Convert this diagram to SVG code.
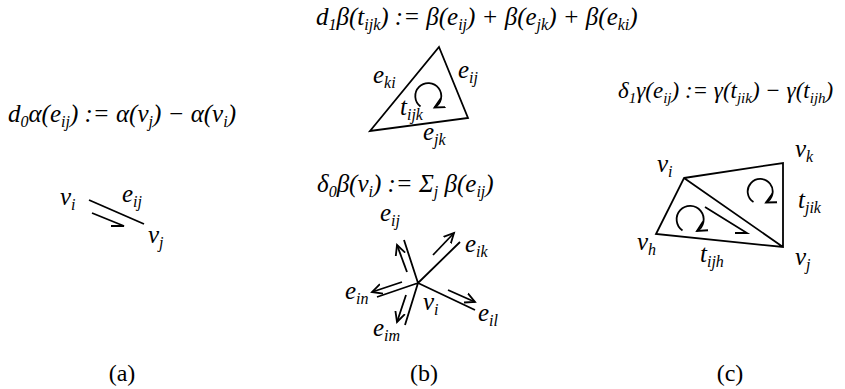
<svg xmlns="http://www.w3.org/2000/svg" width="845" height="389" viewBox="0 0 845 389">
<style>
text{font-family:"Liberation Serif","Times New Roman",serif;fill:#000}
.m{font-style:italic;font-size:25px}
.mc{font-style:italic;font-size:23px}
.l{font-style:italic;font-size:25px}
.s{font-size:16px}
.sc{font-size:15px}
.cap{font-size:24px}
.ln{stroke:#000;stroke-width:1.8;fill:none;stroke-linejoin:miter}
.ar{stroke:#000;stroke-width:1.8;fill:none;marker-end:url(#ah)}
</style>
<defs>
<marker id="ah" markerUnits="userSpaceOnUse" markerWidth="14" markerHeight="14" refX="10" refY="5" orient="auto" viewBox="0 0 14 10">
<path d="M0,0 L10,5 L0,10" fill="none" stroke="#000" stroke-width="1.8"/>
</marker>
</defs>
<g id="formulas">
<text class="m" x="8" y="122">d<tspan class="s" dy="5">0</tspan><tspan dy="-5">α(e</tspan><tspan class="s" dy="5">ij</tspan><tspan dy="-5">) := α(v</tspan><tspan class="s" dy="5">j</tspan><tspan dy="-5">) − α(v</tspan><tspan class="s" dy="5">i</tspan><tspan dy="-5">)</tspan></text>
<text class="m" x="316" y="25">d<tspan class="s" dy="5">1</tspan><tspan dy="-5">β(t</tspan><tspan class="s" dy="5">ijk</tspan><tspan dy="-5">) := β(e</tspan><tspan class="s" dy="5">ij</tspan><tspan dy="-5">) + β(e</tspan><tspan class="s" dy="5">jk</tspan><tspan dy="-5">) + β(e</tspan><tspan class="s" dy="5">ki</tspan><tspan dy="-5">)</tspan></text>
<text class="m" x="317" y="192">δ<tspan class="s" dy="5">0</tspan><tspan dy="-5">β(v</tspan><tspan class="s" dy="5">i</tspan><tspan dy="-5">) := Σ</tspan><tspan class="s" dy="5">j</tspan><tspan dy="-5"> β(e</tspan><tspan class="s" dy="5">ij</tspan><tspan dy="-5">)</tspan></text>
<text class="mc" x="618" y="98">δ<tspan class="sc" dy="5">1</tspan><tspan dy="-5">γ(e</tspan><tspan class="sc" dy="5">ij</tspan><tspan dy="-5">) := γ(t</tspan><tspan class="sc" dy="5">jik</tspan><tspan dy="-5">) − γ(t</tspan><tspan class="sc" dy="5">ijh</tspan><tspan dy="-5">)</tspan></text>
</g>
<g id="panel-a">
<text class="l" x="60" y="205">v<tspan class="s" dy="5">i</tspan></text>
<text class="l" x="122" y="202">e<tspan class="s" dy="5">ij</tspan></text>
<text class="l" x="148" y="243">v<tspan class="s" dy="5">j</tspan></text>
</g>
<g id="panel-b-triangle">
<polygon class="ln" points="439,47 468,118 370,131"/>
<text class="l" x="373" y="83">e<tspan class="s" dy="5">ki</tspan></text>
<text class="l" x="458" y="78">e<tspan class="s" dy="5">ij</tspan></text>
<text class="l" x="400" y="115">t<tspan class="s" dy="5">ijk</tspan></text>
<text class="l" x="423" y="140">e<tspan class="s" dy="5">jk</tspan></text>
</g>
<g id="panel-b-star">
<text class="l" x="380" y="221">e<tspan class="s" dy="5">ij</tspan></text>
<text class="l" x="465" y="252">e<tspan class="s" dy="5">ik</tspan></text>
<text class="l" x="345" y="299">e<tspan class="s" dy="5">in</tspan></text>
<text class="l" x="423" y="310">v<tspan class="s" dy="5">i</tspan></text>
<text class="l" x="373" y="336">e<tspan class="s" dy="5">im</tspan></text>
<text class="l" x="478" y="321">e<tspan class="s" dy="5">il</tspan></text>
</g>
<g id="panel-c">
<path class="ln" d="M684,178 L783,163 L783,247 L656,234 Z M684,178 L783,247"/>
<text class="l" x="657" y="172">v<tspan class="s" dy="5">i</tspan></text>
<text class="l" x="795" y="157">v<tspan class="s" dy="5">k</tspan></text>
<text class="l" x="798" y="208">t<tspan class="s" dy="5">jik</tspan></text>
<text class="l" x="637" y="250">v<tspan class="s" dy="5">h</tspan></text>
<text class="l" x="700" y="262">t<tspan class="s" dy="5">ijh</tspan></text>
<text class="l" x="795" y="265">v<tspan class="s" dy="5">j</tspan></text>
</g>
<g id="connectors">
<path class="ln" d="M89,200 L144,224"/>
<path class="ln" d="M92,213 L124,226 L111,226"/>
<path class="ar" d="M420.5,106.5 A13,13 0 1 1 434.5,107.5"/>
<path class="ln" d="M418,283 L404,240 M418,283 L460,242 M418,283 L377,297 M418,283 L405,325 M418,283 L475,310"/>
<path class="ar" d="M407,272 L397,245"/>
<path class="ar" d="M433,255 L454,233"/>
<path class="ar" d="M402,282 L372,292"/>
<path class="ar" d="M406,295 L397,322"/>
<path class="ar" d="M448,290 L475,302"/>
<path class="ln" d="M705,207 L747,233 L735,233"/>
<path class="ar" d="M753.5,202 A12.5,12.5 0 1 1 766,202.5"/>
<path class="ar" d="M682.5,230.5 A13.5,13.5 0 1 1 697,231"/>
</g>
<g id="captions">
<text class="cap" x="122" y="381" text-anchor="middle">(a)</text>
<text class="cap" x="424" y="381" text-anchor="middle">(b)</text>
<text class="cap" x="730" y="381" text-anchor="middle">(c)</text>
</g>
</svg>
